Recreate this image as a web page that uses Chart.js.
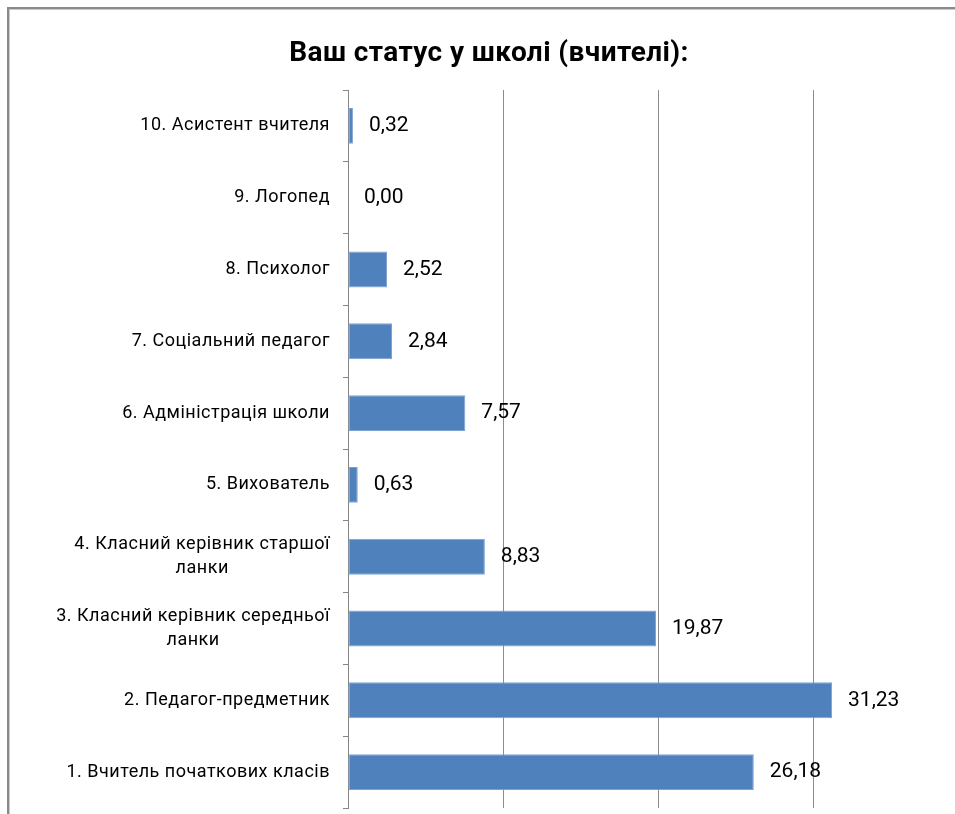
<!DOCTYPE html>
<html>
<head>
<meta charset="utf-8">
<script src="https://cdn.jsdelivr.net/npm/chart.js@4"></script>
<style>
html,body{margin:0;padding:0;background:#fff;overflow:hidden;}
#wrap{width:968px;height:814px;}
</style>
</head>
<body>
<div id="wrap"><canvas id="c" width="968" height="814"></canvas></div>
<script>
const chartTitle = 'Ваш статус у школі (вчителі):';
const categories = [
  ['1. Вчитель початкових класів'],
  ['2. Педагог-предметник'],
  ['3. Класний керівник середньої', 'ланки'],
  ['4. Класний керівник старшої', 'ланки'],
  ['5. Вихователь'],
  ['6. Адміністрація школи'],
  ['7. Соціальний педагог'],
  ['8. Психолог'],
  ['9. Логопед'],
  ['10. Асистент вчителя']
];
const values = [26.18, 31.23, 19.87, 8.83, 0.63, 7.57, 2.84, 2.52, 0.00, 0.32];
const xTicks = [0, 10, 20, 30, 40];

const FONT = 'Roboto';

const framePlugin = {
  id: 'frame',
  beforeDraw(chart) {
    const ctx = chart.ctx;
    ctx.save();
    ctx.fillStyle = '#fff';
    ctx.fillRect(0, 0, chart.width, chart.height);
    ctx.fillStyle = '#8a8a8a';
    ctx.fillRect(7, 7, chart.width, 2);
    ctx.fillRect(7, 7, 2, chart.height);
    ctx.fillStyle = '#c8c8c8';
    ctx.fillRect(9, 9, chart.width, 1);
    ctx.fillRect(9, 9, 1, chart.height);
    ctx.restore();
    ctx.letterSpacing = '0.4px';
  }
};

const labelPlugin = {
  id: 'catLabels',
  afterDraw(chart) {
    const ctx = chart.ctx;
    const yScale = chart.scales.y;
    ctx.save();
    ctx.letterSpacing = '0.5px';
    ctx.font = '18px ' + FONT;
    ctx.fillStyle = '#000';
    ctx.textBaseline = 'middle';
    ctx.textAlign = 'center';
    const right = yScale.right - 18;
    const lh = 24;
    chart.data.labels.forEach((lines, i) => {
      const y = yScale.getPixelForValue(i);
      let w = 0;
      lines.forEach(l => { w = Math.max(w, ctx.measureText(l).width); });
      const cx = right - w / 2;
      const y0 = y - (lines.length - 1) * lh / 2;
      lines.forEach((l, k) => ctx.fillText(l, cx, y0 + k * lh));
    });
    ctx.restore();
  },
  afterDatasetsDraw(chart) {
    const ctx = chart.ctx;
    const meta = chart.getDatasetMeta(0);
    ctx.save();
    ctx.letterSpacing = '0px';
    ctx.font = '21px ' + FONT;
    ctx.fillStyle = '#000';
    ctx.textBaseline = 'middle';
    ctx.textAlign = 'left';
    meta.data.forEach((el, i) => {
      const v = chart.data.datasets[0].data[i];
      ctx.fillText(v.toFixed(2).replace('.', ','), el.x + 16, el.y);
    });
    ctx.restore();
  }
};

new Chart(document.getElementById('c'), {
  type: 'bar',
  data: {
    labels: categories,
    datasets: [{
      data: values,
      backgroundColor: '#4F81BD',
      borderColor: '#7fa3d0',
      borderWidth: 1,
      borderSkipped: false,
      barPercentage: 1,
      categoryPercentage: 0.5
    }]
  },
  options: {
    indexAxis: 'y',
    responsive: false,
    animation: false,
    layout: { padding: { left: 10, right: 0, top: 0, bottom: 0 } },
    plugins: {
      legend: { display: false },
      tooltip: { enabled: false },
      title: {
        display: true,
        text: chartTitle,
        color: '#000',
        font: { family: FONT, size: 28, weight: 'bold', lineHeight: 1.2 },
        padding: { top: 37, bottom: 19.4 }
      }
    },
    scales: {
      x: {
        min: 0,
        max: 40,
        afterBuildTicks(scale) { scale.ticks = xTicks.map(v => ({ value: v })); },
        grid: { color: '#8c8c8c', drawTicks: false },
        border: { display: false },
        ticks: { display: false },
        afterFit(scale) { scale.height = 6; }
      },
      y: {
        reverse: true,
        grid: { drawOnChartArea: false, offset: true, drawTicks: true, tickLength: 5, color: '#868686' },
        border: { display: true, color: '#868686', width: 1 },
        ticks: { display: false },
        afterFit(scale) { scale.width = 338; }
      }
    }
  },
  plugins: [framePlugin, labelPlugin]
});
</script>
</body>
</html>
